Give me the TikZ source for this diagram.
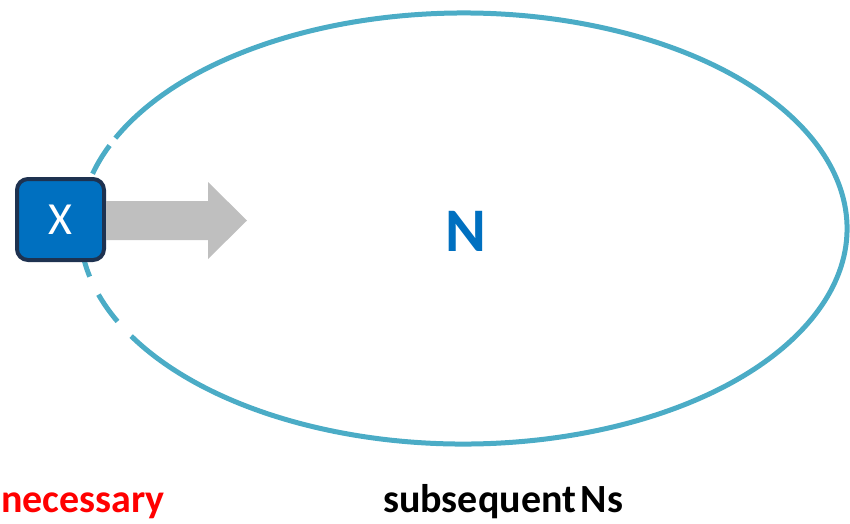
\documentclass[tikz,border=0pt]{standalone}
\usepackage{fontspec}
\setmainfont{Carlito}
\definecolor{ellc}{HTML}{4BACC6}
\definecolor{boxfill}{HTML}{0070C0}
\definecolor{boxline}{HTML}{1E3250}
\definecolor{arrgray}{HTML}{BFBFBF}
\definecolor{nblue}{HTML}{0070C0}
\tikzset{
  ellline/.style={draw=ellc, line width=5pt},
  ellgap/.style={ellline, dash pattern=on 33pt off 20pt, dash phase=33pt},
  xbox/.style={draw=boxline, fill=boxfill, line width=4pt, rounded corners=11pt,
    minimum width=87pt, minimum height=81pt, inner sep=0pt, text=white,
    font=\fontsize{46}{46}\selectfont},
  blockarrow/.style={fill=arrgray, draw=none},
  bigN/.style={text=nblue, font=\bfseries\fontsize{62}{62}\selectfont, inner sep=0pt},
  caption/.style={font=\bfseries\fontsize{40}{40}\selectfont, inner sep=0pt, anchor=base west}
}
\begin{document}
\begin{tikzpicture}[x=1pt,y=-1pt]
\useasboundingbox (0,0) rectangle (850,523);
\coordinate (c) at (463.5,228.5);
% ellipse: solid part and dashed left part
\draw[ellline] (c) ++(204.8:383.5 and 215.5)
  arc[start angle=204.8, end angle=510.06, x radius=383.5, y radius=215.5];
\draw[ellgap] (c) ++(150.06:383.5 and 215.5)
  arc[start angle=150.06, end angle=204.8, x radius=383.5, y radius=215.5];
% box
\node[xbox] (x) at (60.5,219.5) {X};
% block arrow
\coordinate (tip) at (247,220.5);
\fill[blockarrow] (x.east |- 0,201) -- (208,201) -- (208,182) -- (tip)
  -- (208,259) -- (208,240) -- (x.east |- 0,240) -- cycle;
% labels
\node[bigN] (n) at (466,231) {N};
\node[caption, text=red] (nec) at (1,512) {necessary};
\node[caption, text=black] (sub) at (383,512) {subsequent\hspace{0.12em}Ns};
\end{tikzpicture}
\end{document}
